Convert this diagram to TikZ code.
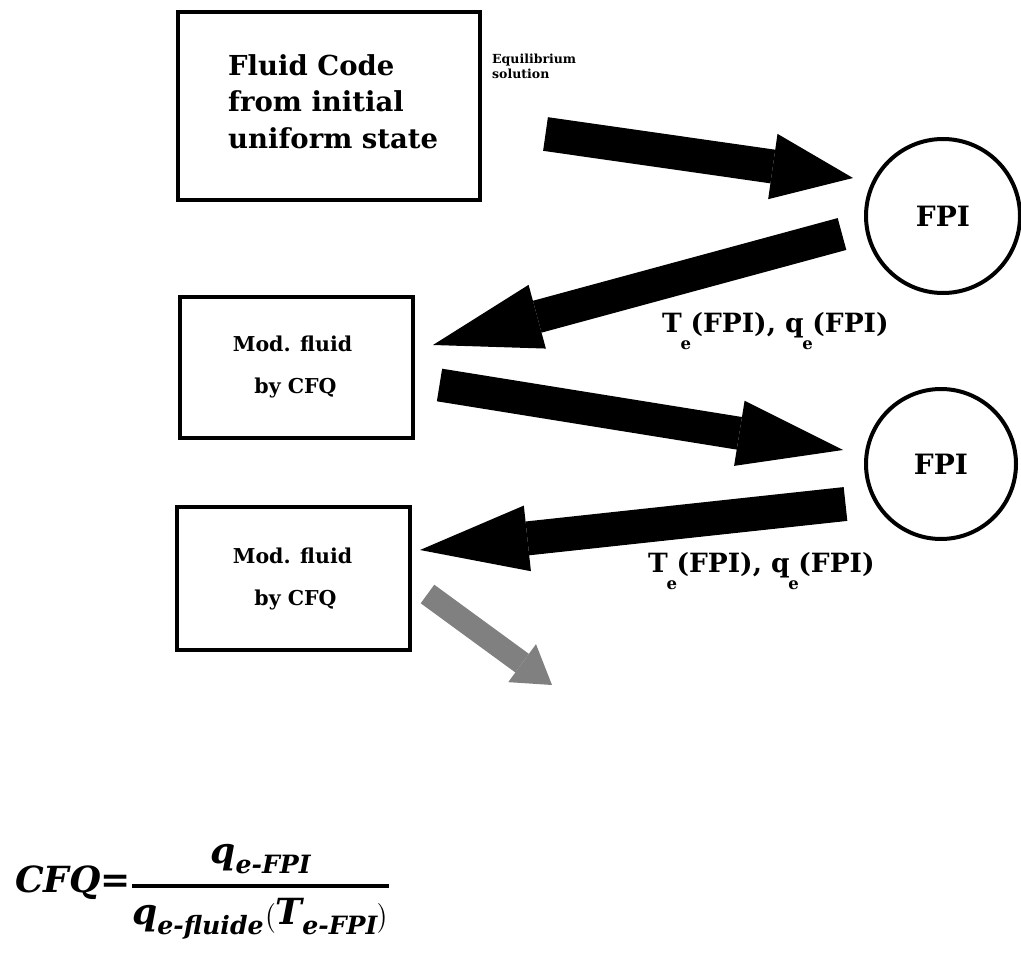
\documentclass[tikz,border=0pt]{standalone}
\usepackage{fontspec}
\usepackage{amsmath}
\setmainfont{DejaVu Serif}
\usetikzlibrary{arrows.meta}
\newcommand{\subE}{\kern-0.05em\raisebox{-1.3ex}{\fontsize{16.5}{16.5}\selectfont e}\kern-0.02em}
\begin{document}
\begin{tikzpicture}[x=1pt,y=-1pt,
  boxshape/.style={draw, line width=4.5pt, rectangle, inner sep=0pt},
  fpinode/.style={draw, circle, line width=4pt, inner sep=0pt, font=\fontsize{28}{30}\selectfont\bfseries},
  boxtext/.style={font=\fontsize{20.5}{24}\selectfont\bfseries, inner sep=0pt, anchor=base},
  bigarrow/.style 2 args={line width=#1, -{Triangle[width=66pt,length=#2,line width=0pt]}},
  flowlabel/.style={font=\fontsize{26.5}{30}\selectfont\bfseries, inner sep=0pt, anchor=base west}
]
\useasboundingbox (0,0) rectangle (1021,955);
\fill[white] (0,0) rectangle (1021,955);

% boxes
\node[boxshape, minimum width=302pt, minimum height=188pt] (box1) at (329,106) {};
\node[font=\fontsize{27.5}{36.5}\selectfont\bfseries, align=left, anchor=north west, inner sep=0pt] (box1text) at (228,54) {Fluid Code\\from initial\\uniform state};

\node[boxshape, minimum width=233pt, minimum height=141pt] (box2) at (296.5,367.5) {};
\node[boxtext] (box2a) at (292.5,351) {Mod. fluid};
\node[boxtext] (box2b) at (295.5,393) {by CFQ};

\node[boxshape, minimum width=233pt, minimum height=143pt] (box3) at (293.5,578.5) {};
\node[boxtext] (box3a) at (292.5,563) {Mod. fluid};
\node[boxtext] (box3b) at (295.5,605) {by CFQ};

% circles
\node[fpinode, minimum size=154pt] (fpi1) at (943,216) {FPI};
\node[fpinode, minimum size=150pt] (fpi2) at (941,464) {FPI};

% labels
\node[font=\fontsize{12.5}{15}\selectfont\bfseries, align=left, anchor=north west, inner sep=0pt] (eqsol) at (492,54) {Equilibrium\\solution};

\node[flowlabel] (lab1) at (662,332) {T\subE(FPI), q\subE(FPI)};
\node[flowlabel] (lab2) at (648,572) {T\subE(FPI), q\subE(FPI)};

% arrow end points
\coordinate (a1s) at (545.5,134);
\coordinate (a1e) at (853,178);
\coordinate (a2s) at (842,234);
\coordinate (a2e) at (433,345);
\coordinate (a3s) at (439.5,385);
\coordinate (a3e) at (843,450);
\coordinate (a4s) at (845.5,504);
\coordinate (a4e) at (420,550);
\coordinate (a5s) at (427.5,594);
\coordinate (a5e) at (552,685);

\draw[bigarrow={34pt}{81pt}] (a1s) -- (a1e);
\draw[bigarrow={33pt}{108pt}] (a2s) -- (a2e);
\draw[bigarrow={33pt}{105pt}] (a3s) -- (a3e);
\draw[bigarrow={34pt}{108pt}] (a4s) -- (a4e);
\draw[line width=23pt, black!50, -{Triangle[width=47pt,length=37pt,line width=0pt]}] (a5s) -- (a5e);

% formula
\node[anchor=west, inner sep=0pt, font=\fontsize{36}{40}\selectfont\bfseries\itshape] (cfq) at (15,892)
  {CFQ=$\genfrac{}{}{3.5pt}{0}{\textit{q}_{\textit{e-FPI}}}{\textit{q}_{\textit{e-fluide}}\bigl(\textit{T}_{\textit{e-FPI}}\bigr)}$};
\end{tikzpicture}
\end{document}
